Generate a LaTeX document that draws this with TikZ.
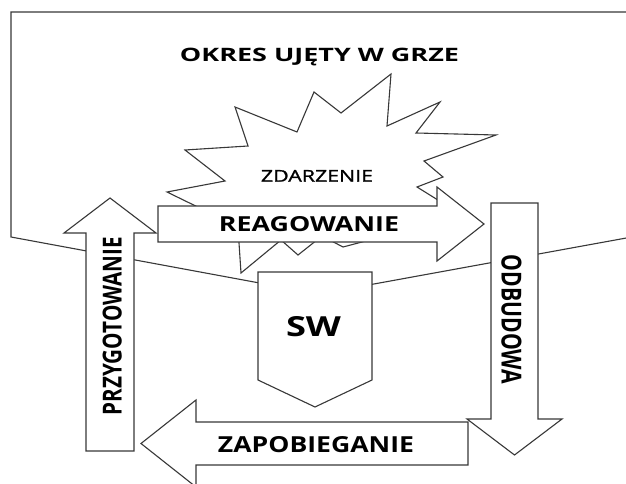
\documentclass[tikz,border=0pt]{standalone}
\usepackage{fontspec}
\setmainfont{Open Sans}
\newfontfamily\semibfont{Open Sans}[FakeBold=1.2]
\begin{document}
\begin{tikzpicture}[x=1pt,y=-1pt,line join=miter]
\tikzset{
  ln/.style={draw=black!78, line width=1.1pt},
  shp/.style={ln, fill=white},
  lbl/.style={inner sep=0pt, anchor=base, font=\bfseries, text=black},
}
\useasboundingbox (0,0) rectangle (626,484);
\fill[white] (0,0) rectangle (626,484);
% frame of the period
\begin{scope}
  \clip (0,0) rectangle (626,484);
  \draw[ln] (640,12) -- (11,12) -- (11,237) -- (319,294) -- (640,235.5);
\end{scope}
% explosion
\draw[shp] (391,74) -- (387,126) -- (440,102) -- (416,133) -- (496,135)
  -- (424,161) -- (443,177) -- (417,187) -- (470,220) -- (400,232)
  -- (343,247) -- (322,236) -- (298,255) -- (281,240) -- (241,273)
  -- (238,228) -- (185,236) -- (210,213) -- (167,192) -- (225,181)
  -- (185,150) -- (248,146) -- (235,107) -- (297,132) -- (314,92)
  -- (341,113) -- cycle;
\node[lbl, font=\semibfont] (zd) at (317,181.7) {\resizebox{112pt}{11.7pt}{ZDARZENIE}};
% arrows
\draw[shp] (158,206) -- (437,206) -- (437,187) -- (484,224) -- (437,261)
  -- (437,242) -- (158,242) -- cycle;
\draw[shp] (86,451) -- (86,233) -- (64,233) -- (110,198) -- (156,233)
  -- (134,233) -- (134,451) -- cycle;
\draw[shp] (491,203) -- (538,203) -- (538,419) -- (562,419) -- (514.5,455)
  -- (467,419) -- (491,419) -- cycle;
\draw[shp] (468,422) -- (468,465) -- (196,465) -- (196,487) -- (141,443.5)
  -- (196,400) -- (196,422) -- cycle;
% SW
\draw[shp] (258,272) -- (372,272) -- (372,380) -- (315,407) -- (258,380) -- cycle;
% labels
\node[lbl] (title) at (319.5,61.7) {\resizebox{279pt}{13.4pt}{OKRES UJĘTY W GRZE}};
\node[lbl] (re) at (309,231.7) {\resizebox{180pt}{15pt}{REAGOWANIE}};
\node[lbl] (sw) at (313.5,336) {\resizebox{55pt}{20pt}{SW}};
\node[lbl] (za) at (316,452.7) {\resizebox{196pt}{16pt}{ZAPOBIEGANIE}};
\node[lbl, rotate=90] (pr) at (121.7,326) {\resizebox{178pt}{19pt}{PRZYGOTOWANIE}};
\node[lbl, rotate=-90] (od) at (501.7,319.5) {\resizebox{129pt}{20pt}{ODBUDOWA}};
\end{tikzpicture}
\end{document}
